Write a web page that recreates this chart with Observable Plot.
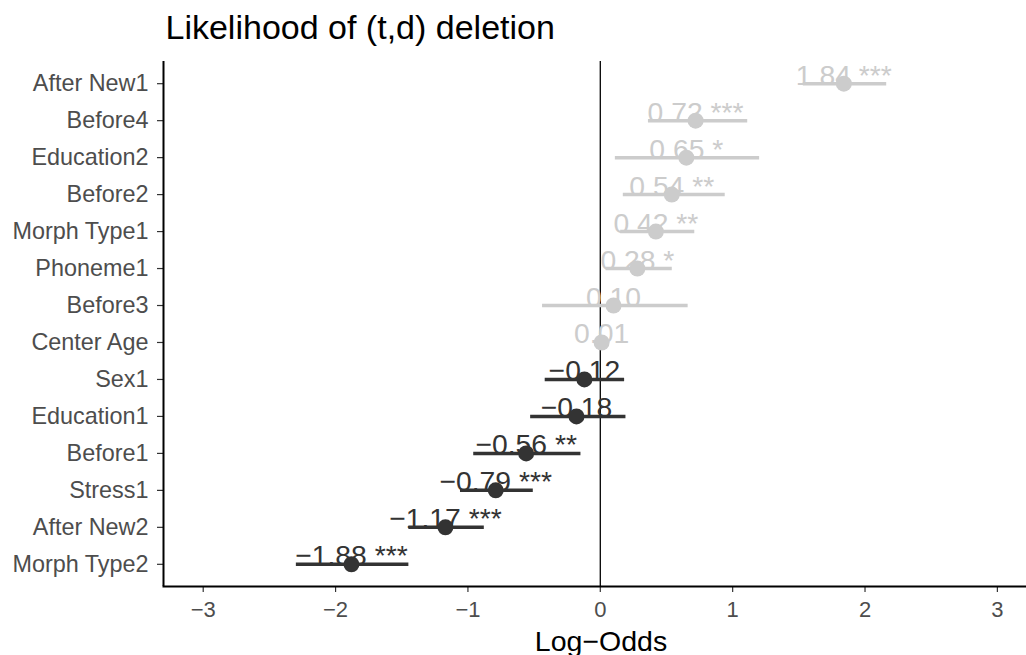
<!DOCTYPE html>
<html>
<head>
<meta charset="utf-8">
<script src="https://cdn.jsdelivr.net/npm/d3@7"></script>
<script src="https://cdn.jsdelivr.net/npm/@observablehq/plot@0.6"></script>
<style>
  body { margin: 0; background: #fff; }
  svg { font-family: "Liberation Sans", Arial, sans-serif; }
</style>
</head>
<body>
<div id="chart"></div>
<script>
const categories = ["After New1", "Before4", "Education2", "Before2", "Morph Type1", "Phoneme1", "Before3", "Center Age", "Sex1", "Education1", "Before1", "Stress1", "After New2", "Morph Type2"];
const estimates = [1.84, 0.72, 0.65, 0.54, 0.42, 0.28, 0.10, 0.01, -0.12, -0.18, -0.56, -0.79, -1.17, -1.88];
const lower = [1.53, 0.36, 0.11, 0.17, 0.15, 0.04, -0.44, 0.00, -0.42, -0.53, -0.96, -1.06, -1.45, -2.30];
const upper = [2.16, 1.11, 1.20, 0.94, 0.71, 0.54, 0.66, 0.02, 0.18, 0.19, -0.15, -0.51, -0.88, -1.45];
const stars = ["***", "***", "*", "**", "**", "*", "", "", "", "", "**", "***", "***", "***"];
const xTicks = [-3, -2, -1, 0, 1, 2, 3];

const data = categories.map((c, i) => ({
  term: c,
  est: estimates[i],
  lo: lower[i],
  hi: upper[i],
  label: estimates[i].toFixed(2).replace("-", "\u2212") + (stars[i] ? " " + stars[i] : "")
}));

const light = "#cccccc", dark = "#333333";
const col = d => d.est > 0 ? light : dark;

const chart = Plot.plot({
  width: 1026,
  height: 655,
  marginTop: 61,
  marginBottom: 69,
  marginLeft: 163,
  marginRight: 0,
  style: {fontFamily: "'Liberation Sans', Arial, sans-serif", background: "#fff"},
  x: {domain: [-3.3, 3.22], ticks: xTicks},
  y: {type: "point", domain: categories, padding: 0.6, round: false},
  marks: [
    Plot.ruleX([0], {stroke: "black", strokeWidth: 1.3}),
    Plot.text(data, {x: "est", y: "term", text: "label", fill: col, fontSize: 28.3, textAnchor: "middle", lineAnchor: "bottom", dy: 1}),
    Plot.link(data, {x1: "lo", x2: "hi", y1: "term", y2: "term", stroke: col, strokeWidth: 3.5}),
    Plot.dot(data, {x: "est", y: "term", r: 8, fill: col, stroke: null}),
    Plot.axisY({tickSize: 6, tickPadding: 9, fontSize: 23.4, fill: "#4d4d4d", stroke: "#333", strokeWidth: 1.2, label: null}),
    Plot.axisX({ticks: xTicks, tickSize: 6, tickPadding: 9, fontSize: 22, fill: "#4d4d4d", stroke: "#333", strokeWidth: 1.2, label: null, tickFormat: d => String(d).replace("-", "\u2212")}),
    Plot.ruleX([-3.3], {stroke: "black", strokeWidth: 2}),
    Plot.frame({anchor: "bottom", stroke: "black", strokeWidth: 2}),
    Plot.text(["Log\u2212Odds"], {frameAnchor: "bottom", dx: 6, dy: 64, fontSize: 28.5, fill: "black", lineAnchor: "bottom", textAnchor: "middle"}),
    Plot.text(["Likelihood of (t,d) deletion"], {frameAnchor: "top-left", dx: 2, dy: -23, fontSize: 34, fill: "black", lineAnchor: "bottom", textAnchor: "start"})
  ]
});
document.getElementById("chart").appendChild(chart);
</script>
</body>
</html>
